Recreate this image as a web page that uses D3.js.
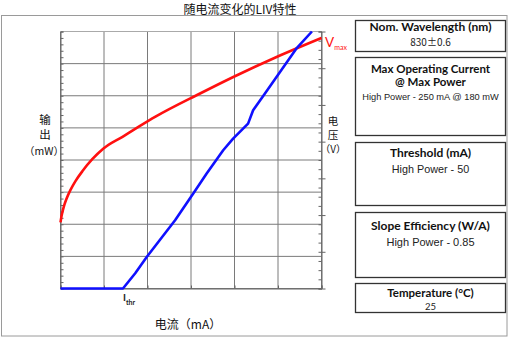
<!DOCTYPE html>
<html><head><meta charset="utf-8">
<script src="https://cdn.jsdelivr.net/npm/d3@7"></script>
<style>
html,body{margin:0;padding:0;background:#fff;}
svg{display:block;}
</style></head>
<body>
<script>
// ---- data ----
const currentTicks = [0, 50, 100, 150, 200, 250, 300];          // mA gridlines
const powerTicks = [0, 30, 60, 90, 120, 150, 180, 210, 240];     // mW gridlines
const voltageMajor = [0, 0.4, 0.8, 1.2, 1.6, 2.0, 2.4, 2.8];      // V major ticks

const powerCurrent = [0, 71.8, 85.9, 99.3, 131.7, 152.6, 168, 187, 198.4, 215.6, 221.4, 234.8, 271, 289];
const powerValues  = [0, 0,    14.2, 29.6, 63.8,  88.7,  107.4, 129.1, 140, 154, 166.4, 181.9, 223.9, 240];

const voltCurrent = [0, 1.2, 2.9, 4.6, 6.9, 11.5, 17.2, 25.3, 36.8, 49.4, 71.3, 90, 109.2, 161, 199.2, 249, 300];
const voltValues  = [0.72, 0.79, 0.86, 0.917, 0.978, 1.074, 1.17, 1.28, 1.411, 1.525, 1.653, 1.763, 1.872, 2.127, 2.307, 2.525, 2.73];

const panelTitles = [["Nom. Wavelength (nm)"], ["Max Operating Current", "@ Max Power"], ["Threshold (mA)"], ["Slope Efficiency (W/A)"], ["Temperature (°C)"]];
const panelValues = ["830±0.6", "High Power - 250 mA @ 180 mW", "High Power - 50", "High Power - 0.85", "25"];

const title = "随电流变化的LIV特性";

// ---- chart ----
const W = 508, H = 338;
const svg = d3.select("body").append("svg").attr("width", W).attr("height", H);

// outer frame
svg.append("rect").attr("x", 1.5).attr("y", 15.5).attr("width", 505.5).attr("height", 320.5)
  .attr("fill", "none").attr("stroke", "#9a9a9a").attr("stroke-width", 1);

svg.append("text").attr("x", 240).attr("y", 14).attr("text-anchor", "middle")
  .attr("font-family", "'Noto Sans CJK SC'").attr("font-size", 12).attr("fill", "#111").text(title);

const x = d3.scaleLinear().domain([0, 300]).range([60.5, 321.5]);
const yP = d3.scaleLinear().domain([0, 240]).range([288.5, 31.5]);
const yV = d3.scaleLinear().domain([0, 2.8]).range([288.5, 31.5]);

const g = svg.append("g");
// grid
g.selectAll("line.v").data(currentTicks).join("line")
  .attr("x1", d => x(d)).attr("x2", d => x(d)).attr("y1", yP(240)).attr("y2", yP(0))
  .attr("stroke", "#7a7a7a").attr("stroke-width", 1);
g.selectAll("line.h").data(powerTicks).join("line")
  .attr("x1", x(0)).attr("x2", x(300)).attr("y1", d => yP(d)).attr("y2", d => yP(d))
  .attr("stroke", (d) => d === 240 ? "#aaaaaa" : "#7a7a7a").attr("stroke-width", 1);

// left axis minor ticks (inward)
const leftAxis = d3.axisLeft(yP).tickValues(d3.range(0, 241, 6)).tickSize(-3).tickFormat("");
const la = svg.append("g").attr("transform", `translate(${x(0)},0)`).call(leftAxis);
la.selectAll("path,line").attr("stroke", "#666");

// right axis minor (inward) and major (outward)
const rightMinor = d3.axisRight(yV).tickValues(d3.range(0, 2.81, 0.1)).tickSize(-3).tickFormat("");
const ra = svg.append("g").attr("transform", `translate(${x(300)},0)`).call(rightMinor);
ra.selectAll("path,line").attr("stroke", "#666");
const rightMajor = d3.axisRight(yV).tickValues(voltageMajor).tickSize(4).tickFormat("");
const rb = svg.append("g").attr("transform", `translate(${x(300)},0)`).call(rightMajor);
rb.select("path").remove();
rb.selectAll("line").attr("stroke", "#666");

// bottom axis ticks
const bottomAxis = d3.axisBottom(x).tickValues(currentTicks).tickSize(-3).tickFormat("");
const ba = svg.append("g").attr("transform", `translate(0,${yP(0)})`).call(bottomAxis);
ba.selectAll("path,line").attr("stroke", "#666");

// curves
const voltLine = d3.line().x(d => x(d[0])).y(d => yV(d[1])).curve(d3.curveMonotoneX);
svg.append("path").datum(voltCurrent.map((c, i) => [c, voltValues[i]]))
  .attr("d", voltLine).attr("fill", "none").attr("stroke", "#ff1010").attr("stroke-width", 2.6);

const powerLine = d3.line().x(d => x(d[0])).y(d => yP(d[1]));
svg.append("path").datum(powerCurrent.map((c, i) => [c, powerValues[i]]))
  .attr("d", powerLine).attr("fill", "none").attr("stroke", "#1010ff").attr("stroke-width", 2.6)
  .attr("stroke-linejoin", "round");

// axis labels
const cjk = "'Noto Sans CJK SC'";
const leftLab = svg.append("g").attr("font-family", cjk).attr("font-size", 11.5).attr("fill", "#111").attr("text-anchor", "middle");
leftLab.append("text").attr("x", 45).attr("y", 124).text("输");
leftLab.append("text").attr("x", 45).attr("y", 139).text("出");
leftLab.append("text").attr("x", 44).attr("y", 155).attr("font-size", 10.5).text("（mW）");

const rightLab = svg.append("g").attr("font-family", cjk).attr("font-size", 10.5).attr("fill", "#111").attr("text-anchor", "middle");
rightLab.append("text").attr("x", 333).attr("y", 125).text("电");
rightLab.append("text").attr("x", 333).attr("y", 139).text("压");
rightLab.append("text").attr("x", 333).attr("y", 153).attr("font-size", 10).text("（V）");

svg.append("text").attr("x", 188).attr("y", 329).attr("text-anchor", "middle")
  .attr("font-family", cjk).attr("font-size", 12).attr("fill", "#111").text("电流（mA）");

// I_thr and V_max labels
const ith = svg.append("text").attr("x", 123).attr("y", 301).attr("font-family", "Lato, 'Open Sans'")
  .attr("font-weight", "bold").attr("font-size", 10).attr("fill", "#222");
ith.append("tspan").text("I");
ith.append("tspan").attr("dy", 4).attr("font-size", 7).text("thr");

const vm = svg.append("text").attr("x", 325).attr("y", 47).attr("font-family", "Lato, 'Open Sans'")
  .attr("font-size", 13.5).attr("fill", "#ff1010");
vm.append("tspan").text("V");
vm.append("tspan").attr("dy", 3).attr("font-size", 7).text("max");

// right panels
const boxes = [
  {y: 20, h: 31, ty: [31], tsize: 12, vy: 46, vfont: "'Noto Sans CJK SC'", vsize: 10},
  {y: 57, h: 78, ty: [72.5, 86], tsize: 11.5, vy: 100, vfont: "Arial, 'Liberation Sans'", vsize: 9.25},
  {y: 142, h: 63, ty: [157], tsize: 12, vy: 173, vfont: "Arial, 'Liberation Sans'", vsize: 10.8},
  {y: 212, h: 65, ty: [230], tsize: 12, vy: 245.5, vfont: "Arial, 'Liberation Sans'", vsize: 11},
  {y: 283, h: 29, ty: [297], tsize: 11.5, vy: 309.5, vfont: "Lato, 'Open Sans'", vsize: 9.5}
];
const bx = 355.5, bw = 150;
boxes.forEach((b, i) => {
  const bg = svg.append("g");
  bg.append("rect").attr("x", bx).attr("y", b.y + 0.5).attr("width", bw).attr("height", b.h)
    .attr("fill", "#fff").attr("stroke", "#333").attr("stroke-width", 1.3);
  panelTitles[i].forEach((t, j) => {
    bg.append("text").attr("x", bx + bw / 2).attr("y", b.ty[j]).attr("text-anchor", "middle")
      .attr("font-family", "Lato, 'Open Sans'").attr("font-weight", "bold").attr("font-size", b.tsize)
      .attr("fill", "#111").text(t);
  });
  bg.append("text").attr("x", bx + bw / 2).attr("y", b.vy).attr("text-anchor", "middle")
    .attr("font-family", b.vfont).attr("font-size", b.vsize).attr("fill", "#222").text(panelValues[i]);
});
</script>
</body></html>
